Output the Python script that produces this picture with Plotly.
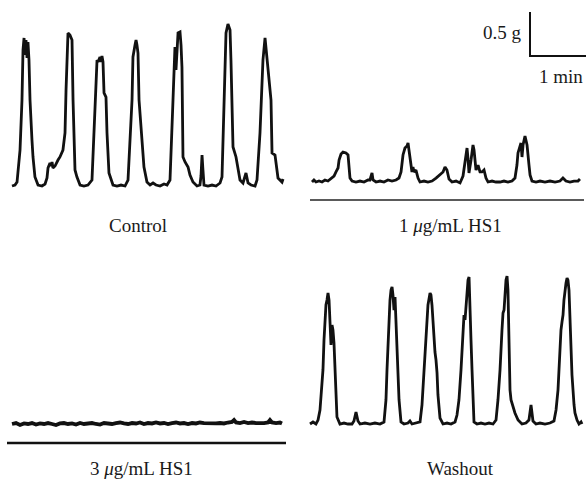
import plotly.graph_objects as go

# ---------------- data (time in s, force in g above each trace's baseline) ----------------
control_t = [0, 3.2, 5.4, 8.6, 10.7, 11.8, 12.9, 13.9, 15.0, 16.1, 17.1, 18.2, 19.3, 20.4, 21.4, 22.5, 24.6, 27.9,
             32.1, 35.4, 37.5, 38.6, 40.7, 41.8, 42.9, 43.9, 46.1, 49.3, 51.4, 54.6, 56.8, 57.9, 58.9, 60.0, 62.1,
             63.2, 64.3, 65.4, 67.5, 69.6, 72.9, 77.1, 81.4, 85.7, 88.9, 91.1, 92.1, 94.3, 95.4, 96.4, 97.5, 98.6,
             100.7, 101.8, 103.9, 108.2, 112.5, 116.8, 121.1, 124.3, 128.6, 129.6, 131.8, 132.9, 133.9, 135.0,
             136.1, 139.3, 141.4, 144.6, 147.9, 151.1, 154.3, 158.6, 162.9, 166.1, 169.3, 172.5, 173.6, 174.6,
             175.7, 176.8, 177.9, 180.0, 181.1, 182.1, 183.2, 185.4, 188.6, 190.7, 193.9, 198.2, 201.4, 202.5,
             203.6, 204.6, 205.7, 210.0, 214.3, 218.6, 222.9, 225.0, 227.1, 229.3, 231.4, 233.6, 234.6, 235.7,
             236.8, 240.0, 241.1, 244.3, 247.5, 250.7, 252.9, 256.1, 260.4, 262.5, 265.7, 268.9, 271.1, 273.2,
             275.4, 277.5, 278.6, 281.8, 285.0, 289.3, 290.4]
control_g = [0, 0.011, 0.045, 0.409, 0.977, 1.545, 1.682, 1.489, 1.659, 1.455, 1.636, 1.432, 0.977, 0.602, 0.523,
             0.33, 0.102, 0.011, 0, 0.023, 0.091, 0.205, 0.261, 0.227, 0.273, 0.205, 0.227, 0.295, 0.33, 0.409,
             0.602, 1.091, 1.545, 1.739, 1.716, 1.693, 1.659, 0.977, 0.182, 0.102, 0.011, 0, 0.011, 0.068, 0.784,
             1.432, 1.409, 1.466, 1.409, 1.477, 1.409, 1.057, 1.011, 0.602, 0.148, 0.011, 0, 0.011, 0, 0.068,
             0.977, 1.466, 1.602, 1.659, 1.602, 1.511, 0.977, 0.489, 0.216, 0.045, 0.011, 0.034, 0.011, 0, 0.023,
             0.011, 0.068, 0.977, 1.432, 1.58, 1.318, 1.625, 1.739, 1.75, 1.602, 1.352, 0.33, 0.273, 0.216, 0.125,
             0.045, 0, 0.011, 0.114, 0.352, 0.182, 0.011, 0, 0.011, 0, 0.034, 0.102, 0.977, 1.739, 1.841, 1.773,
             1.432, 0.977, 0.443, 0.33, 0.273, 0.068, 0.034, 0.148, 0.034, 0.011, 0, 0.068, 0.602, 1.432, 1.682,
             1.432, 1.205, 0.977, 0.375, 0.352, 0.091, 0.045, 0.08]

hs1_1_t = [0, 2.1, 4.3, 7.5, 10.7, 13.9, 17.1, 20.4, 23.6, 25.7, 27.9, 29.0, 31.1, 33.2, 36.4, 38.6, 39.6, 40.7,
           42.9, 47.1, 51.4, 55.7, 60.0, 62.1, 64.3, 65.4, 68.6, 72.9, 77.1, 81.4, 85.7, 90.0, 93.2, 95.4, 97.5,
           99.6, 101.8, 102.9, 103.9, 106.1, 107.1, 108.2, 109.3, 111.4, 113.6, 115.7, 120.0, 124.3, 128.6, 132.9,
           137.1, 140.4, 142.5, 144.6, 146.8, 150.0, 154.3, 158.6, 161.8, 163.9, 166.1, 167.1, 168.2, 170.4, 172.5,
           173.6, 175.7, 177.9, 180.0, 182.1, 184.3, 186.4, 188.6, 192.9, 197.1, 201.4, 205.7, 210.0, 214.3, 217.5,
           219.6, 220.7, 223.9, 225.0, 226.1, 228.2, 230.4, 232.5, 233.6, 235.7, 240.0, 244.3, 249.6, 255.0, 260.4,
           265.7, 268.9, 272.1, 276.4, 280.7, 285.0, 287.1]
hs1_1_g = [0, 0.023, 0, 0.011, 0, 0.023, 0.011, 0.045, 0.068, 0.114, 0.159, 0.25, 0.318, 0.341, 0.33, 0.307,
           0.193, 0.045, 0.011, 0, 0.011, 0, 0.023, 0.023, 0.102, 0.023, 0, 0.011, 0, 0.023, 0.011, 0.023, 0.045,
           0.114, 0.307, 0.386, 0.409, 0.443, 0.364, 0.216, 0.114, 0.17, 0.114, 0.136, 0.045, 0, 0.011, 0, 0.011,
           0.045, 0.08, 0.114, 0.17, 0.136, 0.034, 0, 0.011, -0.011, 0.068, 0.25, 0.386, 0.273, 0.102, 0.25, 0.42,
           0.364, 0.136, 0.193, 0.114, 0.114, 0.136, 0.045, 0, 0.011, 0, 0, 0.011, 0, 0.011, 0.045, 0.193, 0.33,
           0.443, 0.284, 0.42, 0.523, 0.42, 0.193, 0.08, 0.011, 0, 0.011, 0, 0.011, 0, 0.011, 0.045, 0.011, 0,
           0.011, 0.011, 0.034]

hs1_3_t = [0, 4.3, 8.6, 12.9, 17.1, 21.4, 25.7, 30.0, 34.3, 38.6, 42.9, 47.1, 51.4, 55.7, 60.0, 64.3, 68.6, 72.9,
           77.1, 81.4, 85.7, 90.0, 94.3, 98.6, 102.9, 107.1, 111.4, 115.7, 120.0, 124.3, 128.6, 132.9, 137.1,
           141.4, 145.7, 150.0, 154.3, 158.6, 162.9, 167.1, 171.4, 175.7, 180.0, 184.3, 188.6, 192.9, 197.1, 201.4,
           205.7, 210.0, 214.3, 218.6, 222.9, 227.1, 231.4, 235.7, 237.9, 240.0, 244.3, 248.6, 252.9, 257.1, 261.4,
           265.7, 270.0, 274.3, 276.4, 278.6, 282.9, 287.1, 289.3]
hs1_3_g = [0, 0.011, -0.011, 0.006, 0, 0.011, -0.006, 0.006, 0, 0.011, 0, -0.011, 0.006, 0.011, 0, 0.006, -0.006,
           0.011, 0, 0.006, 0.011, 0, -0.006, 0.011, 0.006, 0, 0.011, 0.017, 0.006, 0, 0.011, 0.006, 0.017, 0,
           0.011, 0.006, 0.017, 0.006, 0.011, 0, 0.011, 0.017, 0.006, 0.011, 0, 0.011, 0.006, 0.017, 0.011, 0.006,
           0.011, 0.006, 0.011, 0.006, 0.017, 0.023, 0.045, 0.017, 0.011, 0.023, 0.011, 0.017, 0.011, 0.006, 0.011,
           0.017, 0.045, 0.017, 0.011, 0.017, 0.006]

washout_t = [0, 3.2, 6.4, 8.6, 10.7, 12.9, 13.9, 15.0, 16.1, 17.1, 18.2, 19.3, 20.4, 21.4, 22.5, 23.6, 24.6, 25.7,
             26.8, 27.9, 28.9, 32.1, 36.4, 40.7, 45.0, 47.1, 49.3, 51.4, 53.6, 58.9, 64.3, 69.6, 75.0, 79.3, 81.4,
             82.5, 84.6, 85.7, 86.8, 87.9, 88.9, 90.0, 91.1, 92.1, 93.2, 94.3, 95.4, 97.5, 100.7, 105.0, 107.1, 109.3,
             113.6, 117.9, 120.0, 122.1, 124.3, 126.4, 128.6, 129.6, 130.7, 131.8, 132.9, 133.9, 135.0, 136.1, 137.1,
             139.3, 142.5, 146.8, 151.1, 155.4, 157.5, 159.6, 161.8, 163.9, 165.0, 166.1, 167.1, 168.2, 169.3, 170.4,
             171.4, 172.5, 173.6, 174.6, 175.7, 178.9, 183.2, 187.5, 191.8, 196.1, 199.3, 201.4, 203.6, 205.7, 206.8,
             207.9, 208.9, 210.0, 211.1, 212.1, 213.2, 214.3, 215.4, 217.5, 219.6, 222.9, 227.1, 231.4, 234.6, 236.8,
             238.9, 242.1, 246.4, 251.8, 257.1, 261.4, 263.6, 265.7, 267.9, 268.9, 270.0, 271.1, 272.1, 273.2, 274.3,
             275.4, 276.4, 277.5, 278.6, 279.6, 280.7, 282.9, 283.9, 286.1, 288.2, 290.4, 291.4]
washout_g = [0, 0.023, 0, 0.045, 0.159, 0.443, 0.614, 0.955, 1.261, 1.352, 1.409, 1.489, 1.409, 1.182, 0.898, 1.125,
             1.068, 0.92, 0.614, 0.273, 0.08, 0, 0.011, 0, 0, 0.034, 0.136, 0.034, 0, 0.011, 0, 0.011, 0, 0.023,
             0.273, 0.614, 1.182, 1.409, 1.523, 1.557, 1.466, 1.295, 1.443, 1.182, 0.898, 0.614, 0.273, 0.023, 0,
             0.011, 0.034, 0, 0.011, 0.023, 0.216, 0.557, 0.989, 1.352, 1.489, 1.466, 1.352, 1.182, 0.898, 0.818,
             0.727, 0.58, 0.33, 0.068, 0, 0.011, 0, 0.023, 0.102, 0.273, 0.614, 1.068, 1.239, 1.182, 1.352, 1.523,
             1.636, 1.67, 1.409, 0.955, 0.614, 0.216, 0.023, 0, 0.011, 0, 0.011, 0, 0.045, 0.273, 0.614, 1.068,
             1.261, 1.295, 1.466, 1.636, 1.682, 1.523, 0.955, 0.386, 0.273, 0.182, 0.125, 0.045, 0, 0.011, 0.045,
             0.216, 0.034, 0, 0.011, 0, 0.011, 0.034, 0.159, 0.386, 0.898, 1.068, 1.159, 1.239, 1.409, 1.557, 1.602,
             1.659, 1.636, 1.523, 1.182, 0.841, 0.557, 0.216, 0.125, 0.045, 0, 0.023, 0]

panel_labels = ["Control", "1 <i>μ</i>g/mL HS1", "3 <i>μ</i>g/mL HS1", "Washout"]
scale_time_s = 60      # 1 min
scale_force_g = 0.5    # 0.5 g
scale_labels = ["0.5 g", "1 min"]

# ---------------- layout geometry (pixels) ----------------
W, H = 587, 482
SX = 56 / 60.0   # px per second
SY = 88.0        # px per gram
# L, R, T, B of panel box, x-pixel of t=0, y-pixel of baseline
panels = [
    dict(L=0, R=293, T=0, B=240, x0=12, base=186),
    dict(L=293, R=587, T=0, B=240, x0=312, base=182),
    dict(L=0, R=293, T=240, B=482, x0=12, base=424),
    dict(L=293, R=587, T=240, B=482, x0=310, base=424),
]
series = [(control_t, control_g, 2.8), (hs1_1_t, hs1_1_g, 2.8), (hs1_3_t, hs1_3_g, 3.8), (washout_t, washout_g, 2.8)]

fig = go.Figure()
layout_axes = {}
for i, (p, (t, g, lw)) in enumerate(zip(panels, series)):
    n = "" if i == 0 else str(i + 1)
    fig.add_trace(go.Scatter(x=t, y=g, mode="lines", line=dict(color="#111111", width=lw),
                             xaxis="x" + n, yaxis="y" + n, showlegend=False, hoverinfo="skip"))
    layout_axes["xaxis" + n] = dict(domain=[p["L"] / W, p["R"] / W],
                                    range=[(p["L"] - p["x0"]) / SX, (p["R"] - p["x0"]) / SX],
                                    visible=False, anchor="y" + n, fixedrange=True)
    layout_axes["yaxis" + n] = dict(domain=[1 - p["B"] / H, 1 - p["T"] / H],
                                    range=[(p["base"] - p["B"]) / SY, (p["base"] - p["T"]) / SY],
                                    visible=False, anchor="x" + n, fixedrange=True)

# scale bar drawn in the 1 µg/mL panel's data coordinates
pB = panels[1]
bar_t = (530 - pB["x0"]) / SX
bar_g = (pB["base"] - 56) / SY
fig.add_trace(go.Scatter(x=[bar_t, bar_t, bar_t + scale_time_s],
                         y=[bar_g + scale_force_g, bar_g, bar_g],
                         mode="lines", line=dict(color="#111111", width=2),
                         xaxis="x2", yaxis="y2", showlegend=False, hoverinfo="skip"))

def px(xp, yp):
    return xp / W, 1 - yp / H

shapes = []
# underline below 1 µg/mL trace (gray) and 3 µg/mL trace (black)
for (x1, x2, yy, col, w) in [(310, 584, 200, "#5a5a5a", 2), (7, 286, 443, "#111111", 2.6)]:
    a = px(x1, yy); b = px(x2, yy)
    shapes.append(dict(type="line", xref="paper", yref="paper", x0=a[0], x1=b[0], y0=a[1], y1=b[1],
                       line=dict(color=col, width=w)))

annotations = []
font = dict(family="Liberation Serif, Times New Roman, serif", size=19, color="#1a1a1a")
for label, (cx, cy) in zip(panel_labels[:2], [(138, 225), (450, 225)]):
    x, y = px(cx, cy)
    annotations.append(dict(text=label, x=x, y=y, xref="paper", yref="paper", showarrow=False,
                            xanchor="center", yanchor="middle", font=font))
for label, cx in zip(panel_labels[2:], [141, 460]):
    x, y = px(cx, 481)
    annotations.append(dict(text=label, x=x, y=y, xref="paper", yref="paper", showarrow=False,
                            xanchor="center", yanchor="bottom", font=font))
x, y = px(524, 33)
annotations.append(dict(text=scale_labels[0], x=x, y=y, xref="paper", yref="paper", showarrow=False,
                        xanchor="right", yanchor="middle", font=font))
x, y = px(561, 76)
annotations.append(dict(text=scale_labels[1], x=x, y=y, xref="paper", yref="paper", showarrow=False,
                        xanchor="center", yanchor="middle", font=font))

fig.update_layout(width=W, height=H, margin=dict(l=0, r=0, t=0, b=0),
                  paper_bgcolor="white", plot_bgcolor="rgba(0,0,0,0)",
                  shapes=shapes, annotations=annotations, **layout_axes)
fig.write_html("out.html", config={"displayModeBar": False})
